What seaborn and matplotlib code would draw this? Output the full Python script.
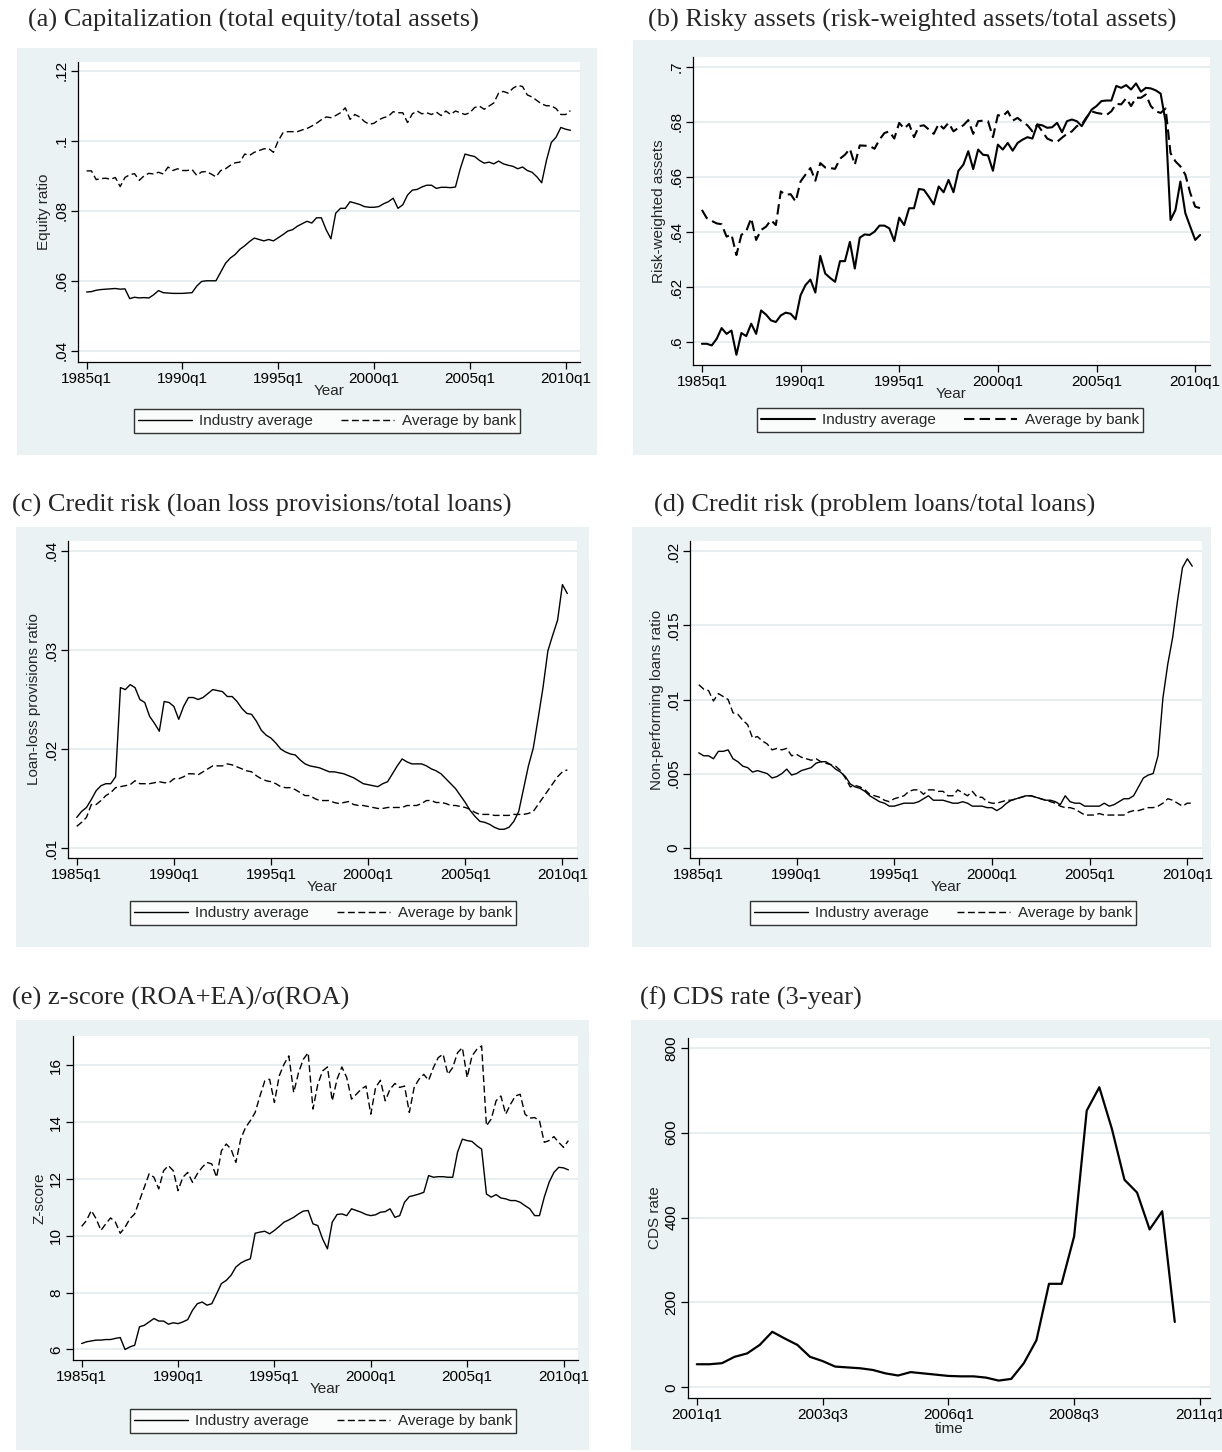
import numpy as np
import pandas as pd
import seaborn as sns
import matplotlib.pyplot as plt
from matplotlib.patches import Rectangle

# quarterly index, 1985q1 = 0 ... 2010q2 = 101
quarters = list(range(102))
year_ticks = [0, 20, 40, 60, 80, 100]
year_labels = ['1985q1', '1990q1', '1995q1', '2000q1', '2005q1', '2010q1']

# (a) equity / total assets
equity_industry = [.0568, .0569, .0573, .0575, .0576, .0577, .0578, .0576,
                   .0577, .0549, .0553, .0551, .0552, .0551, .0560, .0572,
                   .0566, .0565, .0564, .0564, .0564, .0565, .0566, .0585,
                   .0598, .0600, .0600, .0600, .0625, .0650, .0665, .0675,
                   .0690, .0700, .0712, .0722, .0718, .0714, .0718, .0714,
                   .0723, .0732, .0742, .0746, .0756, .0763, .0770, .0765,
                   .0780, .0780, .0746, .0720, .0793, .0807, .0807, .0826,
                   .0822, .0818, .0812, .0810, .0810, .0812, .0820, .0826,
                   .0836, .0807, .0817, .0845, .0859, .0861, .0868, .0873,
                   .0873, .0864, .0867, .0867, .0866, .0868, .0920, .0962,
                   .0958, .0955, .0944, .0936, .0939, .0934, .0942, .0934,
                   .0930, .0927, .0920, .0925, .0915, .0910, .0897, .0880,
                   .0944, .0995, .1010, .1038, .1033, .1030]
equity_bank = [.0914, .0914, .0889, .0892, .0893, .0890, .0895, .0869,
               .0895, .0903, .0906, .0887, .0900, .0907, .0905, .0910,
               .0905, .0925, .0915, .0920, .0915, .0915, .0918, .0901,
               .0911, .0912, .0905, .0897, .0915, .0920, .0930, .0937,
               .0939, .0962, .0958, .0967, .0972, .0977, .0978, .0967,
               .1000, .1023, .1026, .1026, .1026, .1031, .1035, .1042,
               .1050, .1060, .1068, .1066, .1072, .1080, .1094, .1061,
               .1075, .1068, .1055, .1047, .1050, .1060, .1066, .1070,
               .1083, .1080, .1080, .1052, .1077, .1085, .1077, .1080,
               .1075, .1082, .1072, .1085, .1075, .1085, .1080, .1075,
               .1080, .1095, .1099, .1090, .1099, .1108, .1136, .1141,
               .1136, .1150, .1158, .1155, .1131, .1125, .1115, .1105,
               .1100, .1100, .1092, .1075, .1075, .1086]

# (b) risk-weighted assets / total assets
risk_industry = [.5994, .5994, .5988, .6012, .6051, .6030, .6042, .5954,
                 .6033, .6022, .6067, .6030, .6115, .6100, .6079, .6073,
                 .6097, .6107, .6103, .6083, .6170, .6207, .6227, .6180,
                 .6313, .6249, .6233, .6219, .6294, .6294, .6364, .6267,
                 .6379, .6391, .6389, .6401, .6423, .6423, .6413, .6367,
                 .6452, .6425, .6486, .6486, .6556, .6553, .6528, .6500,
                 .6565, .6544, .6589, .6544, .6622, .6644, .6693, .6628,
                 .6699, .6680, .6678, .6622, .6717, .6699, .6723, .6695,
                 .6723, .6735, .6744, .6739, .6790, .6787, .6778, .6780,
                 .6796, .6762, .6802, .6808, .6802, .6784, .6814, .6844,
                 .6857, .6875, .6877, .6877, .6930, .6923, .6933, .6917,
                 .6939, .6909, .6923, .6921, .6914, .6902, .6800, .6443,
                 .6480, .6583, .6468, .6419, .6371, .6389]
risk_bank = [.6480, .6450, .6440, .6431, .6428, .6383, .6391, .6316,
             .6389, .6403, .6450, .6371, .6407, .6419, .6443, .6425,
             .6547, .6535, .6537, .6510, .6583, .6608, .6632, .6586,
             .6650, .6634, .6632, .6629, .6666, .6680, .6702, .6644,
             .6714, .6713, .6712, .6702, .6735, .6759, .6765, .6739,
             .6796, .6775, .6792, .6744, .6784, .6787, .6772, .6756,
             .6792, .6775, .6796, .6765, .6778, .6787, .6806, .6756,
             .6802, .6804, .6802, .6744, .6824, .6820, .6838, .6804,
             .6814, .6799, .6787, .6765, .6790, .6765, .6739, .6731,
             .6727, .6742, .6756, .6765, .6784, .6790, .6817, .6838,
             .6832, .6829, .6824, .6838, .6865, .6863, .6885, .6857,
             .6887, .6887, .6899, .6857, .6838, .6832, .6848, .6686,
             .6656, .6638, .6608, .6541, .6492, .6486]

# (c) loan loss provisions / total loans
loss_industry = [.0131, .0137, .0141, .0149, .0158, .0163, .0165, .0165,
                 .0172, .0262, .0260, .0265, .0262, .0250, .0247, .0233,
                 .0226, .0218, .0248, .0247, .0243, .0230, .0243, .0252,
                 .0252, .0250, .0252, .0256, .0260, .0259, .0258, .0253,
                 .0253, .0248, .0241, .0236, .0235, .0228, .0219, .0214,
                 .0211, .0206, .0200, .0197, .0195, .0194, .0189, .0185,
                 .0183, .0182, .0181, .0179, .0177, .0177, .0176, .0175,
                 .0173, .0171, .0168, .0165, .0164, .0163, .0162, .0165,
                 .0167, .0175, .0183, .0190, .0187, .0185, .0185, .0185,
                 .0183, .0180, .0178, .0175, .0170, .0165, .0160, .0153,
                 .0146, .0138, .0132, .0127, .0126, .0124, .0121, .0119,
                 .0119, .0121, .0127, .0137, .0160, .0183, .0201, .0231,
                 .0262, .0299, .0315, .0330, .0366, .0357]
loss_bank = [.0122, .0126, .0131, .0144, .0144, .0148, .0153, .0156,
             .0161, .0162, .0163, .0164, .0168, .0165, .0165, .0165,
             .0166, .0167, .0166, .0166, .0170, .0170, .0172, .0175,
             .0175, .0174, .0177, .0180, .0183, .0183, .0183, .0185,
             .0184, .0182, .0180, .0178, .0177, .0173, .0170, .0168,
             .0167, .0165, .0162, .0161, .0161, .0159, .0156, .0153,
             .0153, .0150, .0148, .0148, .0148, .0146, .0145, .0146,
             .0147, .0144, .0143, .0143, .0142, .0141, .0140, .0140,
             .0141, .0141, .0141, .0141, .0143, .0143, .0143, .0145,
             .0148, .0148, .0146, .0146, .0145, .0143, .0143, .0142,
             .0141, .0139, .0136, .0134, .0134, .0134, .0133, .0133,
             .0133, .0133, .0134, .0134, .0134, .0135, .0137, .0144,
             .0151, .0158, .0165, .0172, .0177, .0179]

# (d) problem loans / total loans
npl_industry = [.0064, .0062, .0062, .0060, .0065, .0065, .0066, .0060,
                .0058, .0055, .0054, .0051, .0052, .0051, .0050, .0047,
                .0048, .0050, .0053, .0049, .0050, .0052, .0053, .0054,
                .0057, .0058, .0058, .0056, .0053, .0051, .0048, .0043,
                .0041, .0040, .0038, .0035, .0033, .0031, .0030, .0028,
                .0028, .0029, .0030, .0030, .0030, .0031, .0033, .0035,
                .0032, .0032, .0032, .0031, .0030, .0030, .0031, .0030,
                .0028, .0028, .0028, .0027, .0027, .0025, .0027, .0030,
                .0032, .0033, .0034, .0035, .0035, .0034, .0033, .0032,
                .0032, .0031, .0029, .0035, .0031, .0030, .0030, .0028,
                .0028, .0028, .0028, .0030, .0028, .0029, .0031, .0033,
                .0033, .0035, .0041, .0047, .0049, .0050, .0062, .0101,
                .0124, .0142, .0167, .0189, .0195, .0190]
npl_bank = [.0110, .0107, .0106, .0099, .0104, .0102, .0100, .0091,
            .0090, .0086, .0083, .0074, .0075, .0072, .0070, .0066,
            .0067, .0066, .0067, .0062, .0063, .0061, .0060, .0059,
            .0060, .0058, .0057, .0056, .0055, .0052, .0047, .0041,
            .0042, .0041, .0039, .0036, .0035, .0034, .0032, .0031,
            .0033, .0034, .0035, .0038, .0039, .0039, .0036, .0039,
            .0039, .0038, .0038, .0035, .0035, .0039, .0037, .0035,
            .0038, .0034, .0034, .0031, .0030, .0030, .0031, .0032,
            .0032, .0033, .0034, .0035, .0035, .0034, .0033, .0032,
            .0031, .0030, .0028, .0027, .0027, .0026, .0024, .0022,
            .0022, .0022, .0023, .0022, .0022, .0022, .0022, .0022,
            .0024, .0025, .0025, .0026, .0027, .0027, .0028, .0030,
            .0033, .0032, .0030, .0028, .0030, .0030]

# (e) z-score
z_industry = [6.21, 6.27, 6.30, 6.33, 6.33, 6.35, 6.35, 6.39,
              6.42, 6.00, 6.09, 6.15, 6.80, 6.85, 6.97, 7.09,
              7.00, 7.00, 6.89, 6.94, 6.91, 6.97, 7.05, 7.38,
              7.61, 7.67, 7.56, 7.61, 7.96, 8.32, 8.43, 8.61,
              8.90, 9.04, 9.13, 9.19, 10.09, 10.13, 10.16, 10.07,
              10.19, 10.33, 10.48, 10.56, 10.65, 10.77, 10.87, 10.89,
              10.42, 10.36, 9.89, 9.54, 10.48, 10.75, 10.77, 10.71,
              10.95, 10.89, 10.83, 10.75, 10.71, 10.74, 10.83, 10.85,
              10.95, 10.65, 10.71, 11.18, 11.38, 11.42, 11.47, 11.53,
              12.12, 12.06, 12.08, 12.08, 12.06, 12.06, 12.94, 13.40,
              13.35, 13.32, 13.17, 13.05, 11.47, 11.36, 11.45, 11.33,
              11.30, 11.24, 11.24, 11.18, 11.06, 10.95, 10.71, 10.71,
              11.36, 11.88, 12.23, 12.41, 12.39, 12.32]
z_bank = [10.33, 10.54, 10.89, 10.60, 10.19, 10.42, 10.63, 10.48,
          10.09, 10.30, 10.60, 10.77, 11.24, 11.71, 12.18, 12.06,
          11.65, 12.29, 12.47, 12.29, 11.59, 12.06, 12.23, 11.88,
          12.18, 12.41, 12.58, 12.53, 12.06, 12.99, 13.23, 13.05,
          12.58, 13.40, 13.81, 14.05, 14.34, 14.92, 15.45, 15.51,
          14.69, 15.63, 16.04, 16.33, 15.04, 15.74, 16.21, 16.44,
          14.46, 15.33, 15.80, 15.94, 14.75, 15.51, 15.94, 15.57,
          14.81, 14.98, 15.16, 15.27, 14.28, 15.22, 15.47, 14.75,
          15.16, 15.36, 15.22, 15.27, 14.34, 15.22, 15.51, 15.68,
          15.47, 15.92, 16.27, 16.39, 15.68, 15.92, 16.44, 16.62,
          15.57, 16.33, 16.56, 16.68, 13.87, 14.11, 14.75, 14.92,
          14.28, 14.63, 14.92, 14.98, 14.28, 14.14, 14.16, 14.05,
          13.29, 13.35, 13.49, 13.29, 13.11, 13.35]

# (f) CDS rate, quarterly from 2001q1
cds_quarters = list(range(39))
cds_ticks = [0, 10, 20, 30, 40]
cds_labels = ['2001q1', '2003q3', '2006q1', '2008q3', '2011q1']
cds_rate = [54.5, 54.5, 57, 72, 80, 100, 131, 115, 100, 72, 62, 49, 47, 45,
            41, 33, 28, 36, 33, 30, 27, 26, 26, 23, 16, 20, 57, 111, 244,
            244, 356, 652, 707, 609, 489, 459, 372, 415, 154]

sns.set_theme(style='ticks')
plt.rcParams['font.family'] = ['Liberation Sans', 'DejaVu Sans']

W, H = 1222, 1452
fig = plt.figure(figsize=(W / 100, H / 100), dpi=100)

BOX = '#eaf2f3'
GRID = '#e3ebed'
DASH = (0, (5, 2.5))
FS = 11
TITLE_FS = 19


def rect(x0, y0, x1, y1):
    return [x0 / W, 1 - y1 / H, (x1 - x0) / W, (y1 - y0) / H]


def add_box(x0, y0, x1, y1):
    r = rect(x0, y0, x1, y1)
    fig.add_artist(Rectangle((r[0], r[1]), r[2], r[3], transform=fig.transFigure,
                             facecolor=BOX, edgecolor='none', zorder=-10))


df_q = pd.DataFrame({'q': quarters,
                     'equity_industry': equity_industry, 'equity_bank': equity_bank,
                     'risk_industry': risk_industry, 'risk_bank': risk_bank,
                     'loss_industry': loss_industry, 'loss_bank': loss_bank,
                     'npl_industry': npl_industry, 'npl_bank': npl_bank,
                     'z_industry': z_industry, 'z_bank': z_bank})
df_cds = pd.DataFrame({'q': cds_quarters, 'cds': cds_rate})

panels = [
    dict(title='(a) Capitalization (total equity/total assets)', tpos=(28, 20),
         box=(17, 48, 597, 455), ax=(78, 62, 580, 362), legend=(327, 421),
         cols=('equity_industry', 'equity_bank'), lw=1.0,
         ylim=(.0368, .1225), yticks=[.04, .06, .08, .1, .12],
         yticklabels=['.04', '.06', '.08', '.1', '.12'], ylabel='Equity ratio'),
    dict(title='(b) Risky assets (risk-weighted assets/total assets)', tpos=(648, 20),
         box=(633, 40, 1222, 455), ax=(693, 57, 1210, 365), legend=(950, 420),
         cols=('risk_industry', 'risk_bank'), lw=1.5,
         ylim=(.5917, .7035), yticks=[.6, .62, .64, .66, .68, .7],
         yticklabels=['.6', '.62', '.64', '.66', '.68', '.7'], ylabel='Risk-weighted assets'),
    dict(title='(c) Credit risk (loan loss provisions/total loans)', tpos=(12, 505),
         box=(16, 527, 589, 947), ax=(68, 541, 577, 858), legend=(323, 913),
         cols=('loss_industry', 'loss_bank'), lw=1.0,
         ylim=(.009, .041), yticks=[.01, .02, .03, .04],
         yticklabels=['.01', '.02', '.03', '.04'], ylabel='Loan-loss provisions ratio'),
    dict(title='(d) Credit risk (problem loans/total loans)', tpos=(654, 505),
         box=(632, 527, 1211, 947), ax=(690, 541, 1202, 858), legend=(943, 913),
         cols=('npl_industry', 'npl_bank'), lw=1.0,
         ylim=(-.0007, .0207), yticks=[0, .005, .01, .015, .02],
         yticklabels=['0', '.005', '.01', '.015', '.02'], ylabel='Non-performing loans ratio'),
    dict(title='(e) z-score (ROA+EA)/σ(ROA)', tpos=(12, 998),
         box=(16, 1020, 589, 1450), ax=(73, 1036, 578, 1360), legend=(323, 1421),
         cols=('z_industry', 'z_bank'), lw=1.0,
         ylim=(5.63, 17.03), yticks=[6, 8, 10, 12, 14, 16],
         yticklabels=['6', '8', '10', '12', '14', '16'], ylabel='Z-score'),
]

for p in panels:
    add_box(*p['box'])
    fig.text(p['tpos'][0] / W, 1 - p['tpos'][1] / H, p['title'],
             family=['Liberation Serif', 'DejaVu Serif'], fontsize=TITLE_FS,
             ha='left', va='center')
    ax = fig.add_axes(rect(*p['ax']))
    sns.lineplot(data=df_q, x='q', y=p['cols'][0], ax=ax, color='black',
                 linewidth=p['lw'], label='Industry average', legend=False)
    sns.lineplot(data=df_q, x='q', y=p['cols'][1], ax=ax, color='black',
                 linewidth=p['lw'], linestyle=DASH, label='Average by bank', legend=False)
    ax.set_xlim(-1.8, 103)
    ax.set_ylim(*p['ylim'])
    ax.set_xticks(year_ticks)
    ax.set_xticklabels(year_labels)
    ax.set_yticks(p['yticks'])
    ax.set_yticklabels(p['yticklabels'], rotation=90, va='center')
    ax.set_xlabel('Year', fontsize=FS, labelpad=-1)
    ax.set_ylabel(p['ylabel'], fontsize=FS, labelpad=2)
    handles, labels = ax.get_legend_handles_labels()
    leg = fig.legend(handles, labels, loc='center', ncol=2,
                     bbox_to_anchor=(p['legend'][0] / W, 1 - p['legend'][1] / H),
                     frameon=True, fancybox=False, edgecolor='black', fontsize=FS,
                     handlelength=3.5, handletextpad=0.5, columnspacing=1.8,
                     borderpad=0.3, borderaxespad=0)
    leg.get_frame().set_linewidth(1.0)
    leg.get_frame().set_facecolor('white')

# (f) CDS rate
add_box(631, 1020, 1222, 1450)
fig.text(640 / W, 1 - 998 / H, '(f) CDS rate (3-year)',
         family=['Liberation Serif', 'DejaVu Serif'], fontsize=TITLE_FS,
         ha='left', va='center')
ax_f = fig.add_axes(rect(688, 1038, 1210, 1398))
sns.lineplot(data=df_cds, x='q', y='cds', ax=ax_f, color='black', linewidth=1.6)
ax_f.set_xlim(-0.7, 40.8)
ax_f.set_ylim(-25, 823)
ax_f.set_xticks(cds_ticks)
ax_f.set_xticklabels(cds_labels)
ax_f.set_yticks([0, 200, 400, 600, 800])
ax_f.set_yticklabels(['0', '200', '400', '600', '800'], rotation=90, va='center')
ax_f.set_xlabel('time', fontsize=FS, labelpad=0)
ax_f.set_ylabel('CDS rate', fontsize=FS, labelpad=2)

for ax in fig.axes:
    ax.set_facecolor('white')
    for s in ['top', 'right']:
        ax.spines[s].set_visible(False)
    for s in ['left', 'bottom']:
        ax.spines[s].set_color('black')
        ax.spines[s].set_linewidth(0.9)
    ax.yaxis.grid(True, color=GRID, linewidth=1.2)
    ax.xaxis.grid(False)
    ax.set_axisbelow(True)
    ax.tick_params(direction='out', length=5, width=0.9, color='black',
                   labelsize=FS, pad=2, labelcolor='black')

fig.savefig('out.png', dpi=100)
